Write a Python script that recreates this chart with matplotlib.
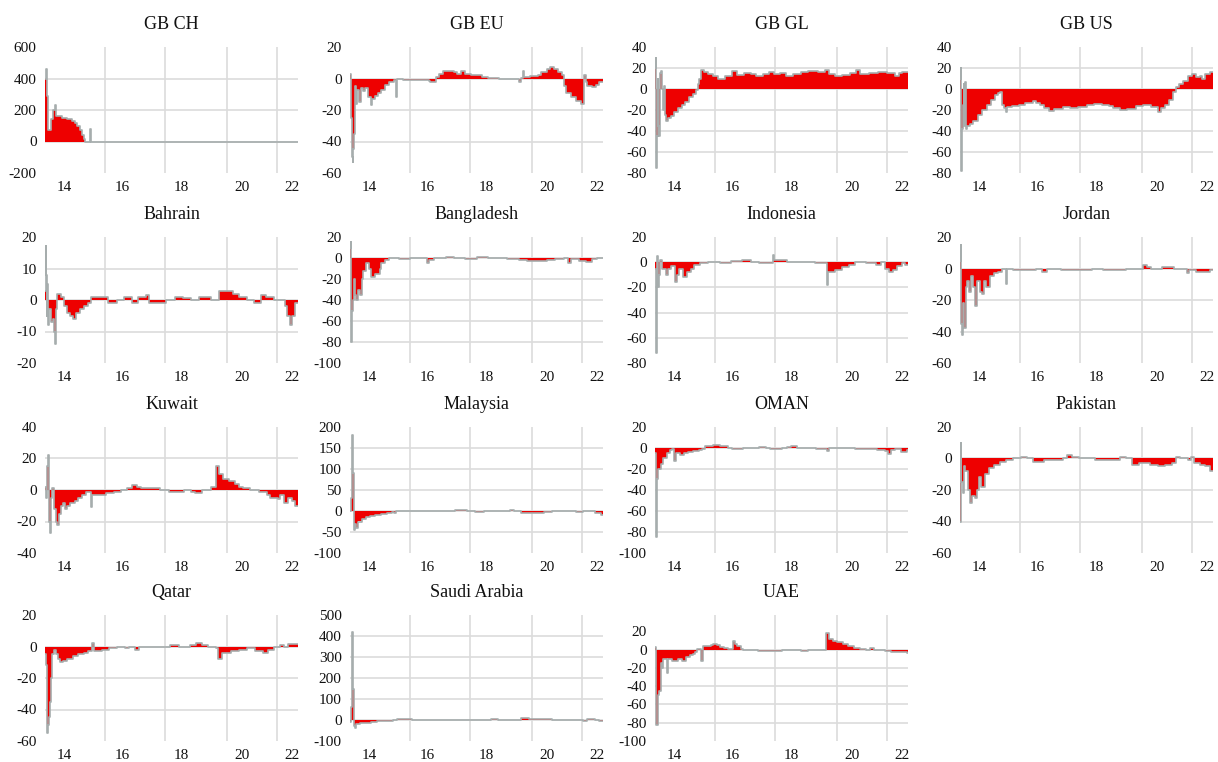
import numpy as np
import matplotlib.pyplot as plt

plt.rcParams['font.family'] = ['Liberation Serif', 'DejaVu Serif']

titles = ['GB CH', 'GB EU', 'GB GL', 'GB US', 'Bahrain', 'Bangladesh', 'Indonesia', 'Jordan',
          'Kuwait', 'Malaysia', 'OMAN', 'Pakistan', 'Qatar', 'Saudi Arabia', 'UAE']

# step series: value holds from t[i] until t[i+1]
gbch_t = [2013.30, 2013.33, 2013.36, 2013.39, 2013.42, 2013.50, 2013.58, 2013.64, 2013.70, 2013.90,
          2014.10, 2014.25, 2014.35, 2014.45, 2014.55, 2014.62, 2014.68, 2014.74, 2014.90, 2014.95,
          2019.50, 2019.55, 2021.30, 2021.33, 2022.22]
gbch_v = [400, 460, 290, 90, 70, 140, 200, 230, 160, 150,
          140, 130, 115, 100, 70, 40, 15, 0, 80, 0,
          -4, 0, -3, 0, -6]

gbeu_t = [2013.30, 2013.33, 2013.36, 2013.39, 2013.42, 2013.45, 2013.47, 2013.50, 2013.55, 2013.62,
          2013.68, 2013.75, 2013.85, 2013.95, 2014.03, 2014.10, 2014.20, 2014.30, 2014.42, 2014.55,
          2014.70, 2014.85, 2014.94, 2014.98, 2015.20, 2016.10, 2016.15, 2016.35, 2016.45, 2016.60,
          2016.80, 2017.00, 2017.10, 2017.25, 2017.40, 2017.60, 2017.80, 2018.00, 2018.20, 2018.60,
          2018.80, 2019.30, 2019.38, 2019.44, 2019.48, 2019.70, 2020.00, 2020.10, 2020.30, 2020.42,
          2020.55, 2020.70, 2020.85, 2020.92, 2021.00, 2021.15, 2021.35, 2021.50, 2021.62, 2021.68,
          2021.72, 2021.90, 2022.05, 2022.15]
gbeu_v = [3, -25, -50, -53, -45, -35, -5, -16, -7, -15,
          -6, -8, -6, -12, -17, -13, -11, -9, -7, -4,
          -2, -1, -12, 0, -1, -1.5, -2, 1, 3, 5,
          4.5, 4, 3, 5, 3, 2, 2.5, 1, 0.5, -0.5,
          0, -2, 0.5, 5, 1, 1.5, 2, 4, 6, 7.5,
          6, 4, 2, -5, -9, -12, -14, -16, 2.5, -2,
          -5, -5.5, -4, -2.5]

gbgl_t = [2013.30, 2013.33, 2013.35, 2013.38, 2013.40, 2013.42, 2013.44, 2013.48, 2013.51, 2013.55,
          2013.58, 2013.61, 2013.64, 2013.70, 2013.78, 2013.88, 2013.98, 2014.12, 2014.25, 2014.38,
          2014.52, 2014.66, 2014.76, 2014.82, 2014.88, 2014.94, 2015.05, 2015.20, 2015.35, 2015.55,
          2015.80, 2016.05, 2016.20, 2016.45, 2016.70, 2016.90, 2017.15, 2017.35, 2017.55, 2017.73,
          2017.95, 2018.20, 2018.50, 2018.75, 2019.10, 2019.35, 2019.50, 2019.70, 2019.95, 2020.25,
          2020.45, 2020.60, 2020.90, 2021.25, 2021.55, 2021.85, 2021.98, 2022.10]
gbgl_v = [20, 30, -75, -45, 10, -35, -45, 15, 17, 0,
          -20, 3, -25, -30, -28, -26, -22, -18, -15, -12,
          -8, -5, -1, 5, 10, 18, 16, 14, 12, 10,
          12, 17, 13, 15, 14, 12, 14, 16, 14, 15,
          12, 14, 16, 17, 16, 18, 14, 12, 13, 15,
          18, 14, 15, 16, 15, 12, 15, 16]

gbus_t = [2013.30, 2013.32, 2013.34, 2013.36, 2013.38, 2013.40, 2013.43, 2013.45, 2013.48, 2013.51,
          2013.55, 2013.65, 2013.78, 2013.95, 2014.10, 2014.25, 2014.40, 2014.53, 2014.65, 2014.73,
          2014.78, 2014.85, 2014.92, 2014.98, 2015.15, 2015.40, 2015.62, 2015.90, 2016.02, 2016.16,
          2016.30, 2016.45, 2016.65, 2016.95, 2017.20, 2017.50, 2017.80, 2018.07, 2018.35, 2018.60,
          2018.75, 2019.00, 2019.25, 2019.55, 2019.80, 2020.10, 2020.35, 2020.45, 2020.60, 2020.75,
          2020.88, 2020.97, 2021.10, 2021.25, 2021.40, 2021.55, 2021.68, 2021.82, 2021.90, 2022.02,
          2022.20]
gbus_v = [10, 20, -78, -45, -38, -15, 5, -35, 7, -38,
          -35, -33, -30, -25, -20, -15, -10, -6, -4, -3,
          -15, -18, -22, -17, -16, -15, -13, -11, -13, -15,
          -18, -21, -19, -17, -18, -17, -15, -14, -15, -16,
          -18, -20, -19, -16, -15, -17, -22, -18, -15, -10,
          -3, 2, 5, 8, 12, 14, 11, 12, 10, 14,
          16]

bahrain_t = [2013.30, 2013.32, 2013.34, 2013.36, 2013.38, 2013.40, 2013.44, 2013.50, 2013.57, 2013.62,
             2013.65, 2013.70, 2013.73, 2013.86, 2013.97, 2014.07, 2014.20, 2014.28, 2014.42, 2014.56,
             2014.70, 2014.82, 2014.92, 2015.55, 2015.85, 2016.10, 2016.38, 2016.60, 2016.90, 2017.00,
             2017.60, 2017.94, 2018.20, 2018.50, 2018.78, 2019.20, 2019.49, 2019.75, 2019.98, 2020.20,
             2020.50, 2020.75, 2021.00, 2021.15, 2021.45, 2021.85, 2021.92, 2022.00, 2022.10, 2022.20]
bahrain_v = [3, 17, 8, -5, 5, -8, -3, -7, -6, -10,
             -14, -3, 2, 1, -2, -4, -5, -6, -4, -3,
             -2, -1, 1, -1, 0, 1, -1, 1, 1.5, -1,
             0, 1, 0.5, 0, 1, 0, 3, 2.8, 2, 1,
             0, -1, 1.5, 1, 0, -2, -5, -8, -5, -1]

bangla_t = [2013.30, 2013.32, 2013.34, 2013.36, 2013.39, 2013.43, 2013.47, 2013.50, 2013.57, 2013.65,
            2013.72, 2013.78, 2013.88, 2013.99, 2014.06, 2014.20, 2014.35, 2014.42, 2014.55, 2014.70,
            2015.05, 2015.45, 2016.05, 2016.12, 2016.30, 2016.70, 2017.00, 2017.40, 2017.80, 2018.20,
            2018.90, 2019.30, 2019.60, 2020.00, 2020.30, 2020.60, 2020.90, 2021.05, 2021.15, 2021.45,
            2021.70, 2021.90, 2022.10]
bangla_v = [10, 15, -80, -50, -40, -20, -35, -40, -30, -35,
            -20, -12, -5, -10, -18, -15, -10, -5, -2, 0,
            -1, 0, -5, -2, 0, 1, 0, -1, 1, 0,
            -1, -2, -3, -2.5, -2, -1, 0, -5, -1, -3,
            -4, -1, 0]

indo_t = [2013.30, 2013.33, 2013.36, 2013.39, 2013.42, 2013.45, 2013.48, 2013.55, 2013.68, 2013.76,
          2013.88, 2014.00, 2014.08, 2014.16, 2014.30, 2014.45, 2014.58, 2014.70, 2014.90, 2015.20,
          2015.60, 2016.00, 2016.40, 2016.70, 2017.00, 2017.50, 2017.55, 2018.00, 2019.00, 2019.42,
          2019.47, 2019.70, 2019.95, 2020.20, 2020.40, 2020.80, 2021.15, 2021.35, 2021.48, 2021.62,
          2021.75, 2021.90, 2022.10, 2022.20]
indo_v = [-5, -72, 5, -15, -20, -10, 2, -5, -10, -5,
          -3, -16, -10, -5, -12, -8, -5, -2, -1, 0,
          -1, 1, 1.5, 0, -1, 6, 2, 0, -1, -18,
          -8, -6, -4, -2, 0, -1, -2, 0, -5, -8,
          -6, -3, -1, -2]

jordan_t = [2013.30, 2013.32, 2013.35, 2013.38, 2013.42, 2013.46, 2013.50, 2013.56, 2013.63, 2013.70,
            2013.77, 2013.85, 2013.92, 2014.02, 2014.10, 2014.17, 2014.24, 2014.38, 2014.52, 2014.66,
            2014.80, 2014.92, 2014.96, 2015.20, 2015.75, 2016.00, 2016.20, 2016.40, 2016.90, 2017.60,
            2018.00, 2018.40, 2019.20, 2019.80, 2019.95, 2020.10, 2020.50, 2020.90, 2021.38, 2021.46,
            2021.70, 2022.00, 2022.20]
jordan_v = [5, 15, -35, -42, -22, -38, -12, -8, -15, -5,
            -12, -24, -8, -15, -16, -8, -12, -5, -3, -2,
            0, -10, 0, -1, -1, 0, -2, 0, -1, -1,
            0, -1, 0, 2, 1, 0, 1, 0, -3, -1,
            -2, -2, -1]

kuwait_t = [2013.30, 2013.34, 2013.37, 2013.40, 2013.44, 2013.47, 2013.51, 2013.55, 2013.62, 2013.69,
            2013.74, 2013.80, 2013.86, 2013.93, 2014.00, 2014.07, 2014.20, 2014.35, 2014.49, 2014.62,
            2014.76, 2014.92, 2014.97, 2015.20, 2015.46, 2015.74, 2016.00, 2016.23, 2016.40, 2016.58,
            2016.72, 2017.15, 2017.40, 2017.70, 2018.25, 2018.50, 2018.65, 2018.90, 2019.20, 2019.40,
            2019.48, 2019.62, 2019.85, 2020.05, 2020.20, 2020.35, 2020.60, 2020.90, 2021.18, 2021.30,
            2021.58, 2021.65, 2021.80, 2021.93, 2022.07, 2022.20]
kuwait_v = [2, -5, 15, 22, -20, -27, -5, 1, -12, -20,
            -22, -15, -10, -8, -12, -10, -8, -7, -5, -3,
            -1, -11, -3, -3, -2, -1, 0, 1, 3, 2,
            1, 1, 0, -1, 0, -1, -2, 0, 2, 15,
            10, 7, 6, 4, 2, 1, 0, -1, -3, -5,
            -6, -3, -8, -5, -7, -10]

malay_t = [2013.30, 2013.34, 2013.37, 2013.41, 2013.44, 2013.47, 2013.51, 2013.58, 2013.72, 2013.86,
           2014.00, 2014.20, 2014.40, 2014.60, 2014.80, 2014.88, 2014.95, 2015.25, 2017.05, 2017.45,
           2017.75, 2018.05, 2019.00, 2019.15, 2019.40, 2019.80, 2020.20, 2020.50, 2021.33, 2021.60,
           2022.02, 2022.22]
malay_v = [0, 30, 180, 90, -45, -30, -40, -25, -20, -15,
           -12, -10, -8, -5, -2, -5, -1, 0, 2, 0,
           -2, 0, 3, 0, -5, -4, -2, 0, -3, 0,
           -5, -10]

oman_t = [2013.30, 2013.33, 2013.38, 2013.42, 2013.50, 2013.57, 2013.71, 2013.82, 2013.91, 2013.98,
          2014.05, 2014.19, 2014.32, 2014.46, 2014.66, 2014.86, 2014.96, 2015.07, 2015.35, 2015.62,
          2015.89, 2016.03, 2016.44, 2017.00, 2017.25, 2017.40, 2017.80, 2018.00, 2018.14, 2018.35,
          2019.04, 2019.42, 2019.48, 2020.40, 2021.20, 2021.48, 2021.60, 2021.70, 2021.85, 2022.05,
          2022.25]
oman_v = [-5, -85, -30, -20, -15, -10, -5, -2, -1, -12,
          -5, -7, -5, -4, -3, -2, -1, 2, 3, 2,
          0, -1, 0, 1, 0, -1, 0, 1, 2, 0,
          -1, -3, 0, -1, -2, -3, -6, -2, -1, -4,
          -2]

pak_t = [2013.30, 2013.33, 2013.35, 2013.39, 2013.44, 2013.48, 2013.58, 2013.66, 2013.74, 2013.82,
         2013.90, 2013.97, 2014.04, 2014.18, 2014.32, 2014.52, 2014.72, 2014.93, 2015.20, 2015.48,
         2015.68, 2015.89, 2016.30, 2016.70, 2016.98, 2017.10, 2017.30, 2017.55, 2018.10, 2018.50,
         2019.00, 2019.20, 2019.42, 2019.65, 2020.05, 2020.35, 2020.60, 2020.85, 2020.98, 2021.12,
         2021.40, 2021.52, 2021.62, 2021.82, 2022.02, 2022.18]
pak_v = [-40, 10, -15, -22, -5, -8, -20, -28, -24, -25,
         -20, -12, -18, -10, -6, -4, -2, -1, 0, 1,
         0, -2, -1, -1, 0, 2, 1, 0, -1, -1,
         1, 0, -4, -3, -4, -5, -4, -3, 1, 0,
         -1, 1, -3, -4, -5, -8]

qatar_t = [2013.30, 2013.34, 2013.37, 2013.41, 2013.45, 2013.48, 2013.51, 2013.55, 2013.62, 2013.69,
           2013.76, 2013.83, 2013.93, 2014.07, 2014.28, 2014.49, 2014.70, 2014.84, 2014.96, 2015.03,
           2015.31, 2015.59, 2015.87, 2016.15, 2016.29, 2016.50, 2016.64, 2017.75, 2018.05, 2018.45,
           2018.67, 2018.90, 2019.10, 2019.38, 2019.44, 2019.58, 2019.93, 2020.20, 2020.48, 2020.76,
           2021.04, 2021.25, 2021.46, 2021.67, 2021.81, 2021.95]
qatar_v = [-5, -12, -55, -50, -45, -35, -20, -5, -2, -5,
           -8, -10, -9, -8, -6, -5, -4, -3, 2, -3,
           -2, -1, 0, -1, 0, -2, 0, 1, 0, 1,
           2, 1, 0, -1, -8, -4, -3, -2, -1, -3,
           -4, -2, 0, 1, 0, 1.5]

saudi_t = [2013.30, 2013.34, 2013.37, 2013.41, 2013.44, 2013.48, 2013.51, 2013.65, 2013.85, 2014.06,
           2014.27, 2014.55, 2014.82, 2014.96, 2015.24, 2015.52, 2016.35, 2016.62, 2018.30, 2018.58,
           2019.40, 2019.67, 2020.50, 2021.60, 2021.74, 2022.02, 2022.15]
saudi_v = [-10, 60, 420, 150, -30, -40, -20, -15, -12, -8,
           -5, -3, 0, 3, 5, 0, 2, 0, 3, 0,
           8, 5, 0, -5, 3, 0, -3]

uae_t = [2013.30, 2013.34, 2013.39, 2013.44, 2013.50, 2013.55, 2013.60, 2013.71, 2013.78, 2013.92,
         2014.12, 2014.26, 2014.39, 2014.53, 2014.66, 2014.73, 2014.80, 2014.94, 2015.01, 2015.28,
         2015.35, 2015.49, 2015.62, 2015.76, 2015.89, 2016.06, 2016.14, 2016.23, 2016.37, 2016.44,
         2016.98, 2017.53, 2017.80, 2018.48, 2018.76, 2019.40, 2019.50, 2019.62, 2019.76, 2019.98,
         2020.18, 2020.39, 2020.60, 2020.80, 2020.94, 2021.08, 2021.48, 2021.69, 2021.83, 2022.10,
         2022.25]
uae_v = [3, -82, -50, -45, -15, -20, -10, -25, -10, -12,
         -10, -12, -8, -6, -5, -3, 1, -12, 4, 5,
         6, 5, 3, 2, 1, 10, 6, 4, 1, 0,
         -1, -1, 0, -1, 0, 18, 12, 10, 8, 6,
         4, 2, 1, 0, 2, 0, -1, -3, -2, -3,
         -4]

series = [(gbch_t, gbch_v), (gbeu_t, gbeu_v), (gbgl_t, gbgl_v), (gbus_t, gbus_v),
          (bahrain_t, bahrain_v), (bangla_t, bangla_v), (indo_t, indo_v), (jordan_t, jordan_v),
          (kuwait_t, kuwait_v), (malay_t, malay_v), (oman_t, oman_v), (pak_t, pak_v),
          (qatar_t, qatar_v), (saudi_t, saudi_v), (uae_t, uae_v)]

# y axis: min, max, step (top of box for UAE sits above its last tick)
yaxes = [(-200, 600, 200), (-60, 20, 20), (-80, 40, 20), (-80, 40, 20),
         (-20, 20, 10), (-100, 20, 20), (-80, 20, 20), (-60, 20, 20),
         (-40, 40, 20), (-100, 200, 50), (-100, 20, 20), (-60, 20, 20),
         (-60, 20, 20), (-100, 500, 100), (-100, 20, 20)]

x_start, x_end = 2013.30, 2022.30
xtick_pos = [2014.0, 2016.05, 2018.15, 2020.3, 2022.1]
xtick_lab = ['14', '16', '18', '20', '22']
vgrid = [2015.42, 2017.57, 2019.76, 2021.56]

RED = '#ee0000'
GRAY = '#a6adad'
GRID = '#dcdcdc'

W, H = 1218, 762
fig = plt.figure(figsize=(W / 100, H / 100), dpi=100)
col_x = [45, 350, 655, 960]
row_top = [47, 237, 427, 615]
pw, ph = 253, 126

for i, name in enumerate(titles):
    r, c = divmod(i, 4)
    ax = fig.add_axes([col_x[c] / W, 1 - (row_top[r] + ph) / H, pw / W, ph / H])
    t, v = series[i]
    t = np.append(t, x_end)
    v = np.append(v, v[-1])

    lo, hi, step = yaxes[i]
    ticks = np.arange(lo, hi + step / 2, step)
    top = hi + 18 if name == 'UAE' else hi

    for g in vgrid:
        ax.axvline(g, color=GRID, lw=1.2, zorder=0)
    for yv in ticks[1:-1]:
        ax.axhline(yv, color=GRID, lw=1.2, zorder=0)

    ax.fill_between(t, v, 0, step='post', color=RED, lw=0, zorder=2)
    ax.step(t, v, where='post', color=GRAY, lw=1.2, zorder=3)

    ax.set_xlim(x_start, x_end)
    ax.set_ylim(lo, top)
    ax.set_yticks(ticks)
    ax.set_yticklabels([str(int(k)) for k in ticks])
    ax.set_xticks(xtick_pos)
    ax.set_xticklabels(xtick_lab)
    ax.tick_params(length=0, labelsize=11, pad=6, colors='#111111')
    for s in ax.spines.values():
        s.set_visible(False)
    ax.set_title(name, fontsize=13, pad=13, color='#111111')

fig.savefig('out.png', dpi=100)
